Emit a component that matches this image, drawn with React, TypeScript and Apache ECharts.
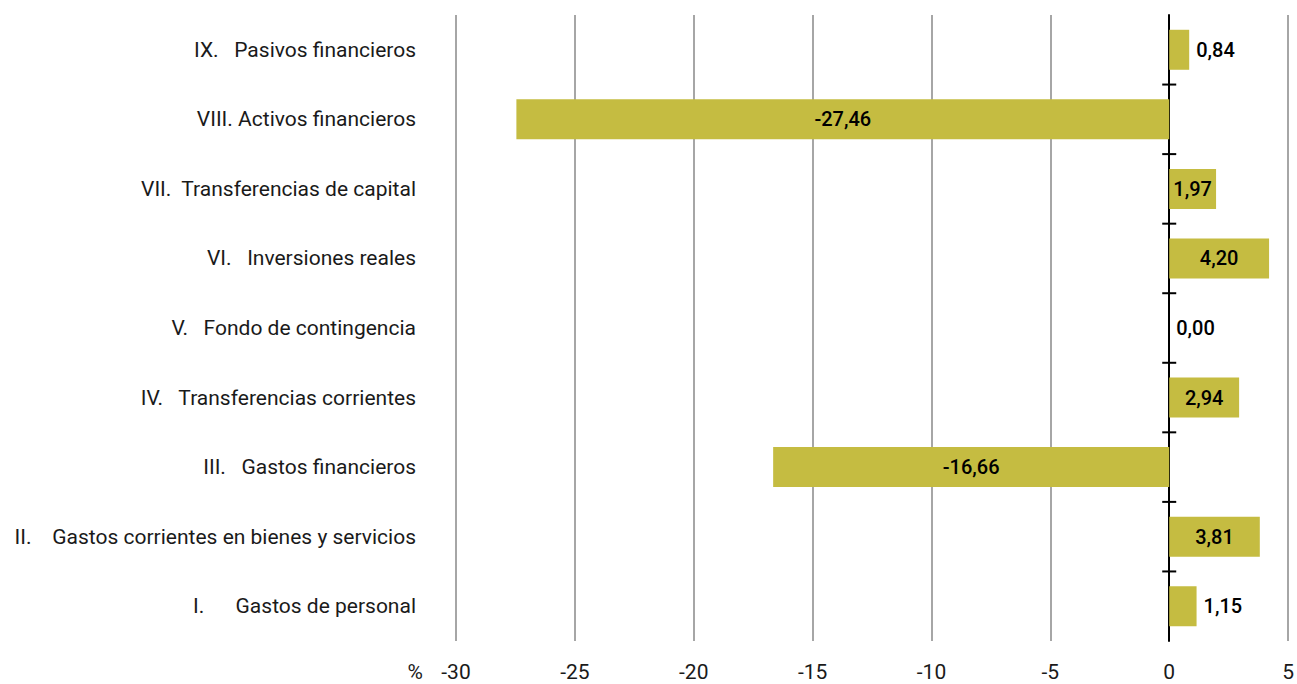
import React, { useEffect, useRef } from "react";
import * as echarts from "echarts";

const categories = [
  "I.      Gastos de personal",
  "II.    Gastos corrientes en bienes y servicios",
  "III.   Gastos financieros",
  "IV.   Transferencias corrientes",
  "V.   Fondo de contingencia",
  "VI.   Inversiones reales",
  "VII.  Transferencias de capital",
  "VIII. Activos financieros",
  "IX.   Pasivos financieros",
];
const values = [1.15, 3.81, -16.66, 2.94, 0.0, 4.2, 1.97, -27.46, 0.84];
const xTicks = [-30, -25, -20, -15, -10, -5, 0, 5];

const FONT = "Roboto";
const BAR = "#C5BC41";

export default function App() {
  const ref = useRef<HTMLDivElement>(null);
  useEffect(() => {
    document.body.style.margin = "0";
    const chart = echarts.init(ref.current!, null, { renderer: "svg" });
    const fmt = (v: number) => v.toFixed(2).replace(".", ",");
    chart.setOption({
      animation: false,
      textStyle: { fontFamily: FONT },
      grid: { left: 456, right: 8, top: 15, bottom: 43, containLabel: false },
      xAxis: {
        type: "value",
        min: xTicks[0],
        max: xTicks[xTicks.length - 1],
        interval: 5,
        axisLine: { show: false },
        axisTick: { show: false },
        splitLine: { show: true, lineStyle: { color: "#A6A6A6", width: 2 } },
        axisLabel: { margin: 20, fontSize: 21, color: "#1a1a1a", fontFamily: FONT },
        name: "%",
        nameLocation: "start",
        nameGap: 33,
        nameTextStyle: { fontSize: 21, color: "#1a1a1a", fontFamily: FONT, verticalAlign: "top", padding: [20, 0, 0, 0] },
      },
      yAxis: [
        {
          type: "category",
          data: categories,
          position: "left",
          axisLine: { show: false, onZero: false },
          axisTick: { show: false },
          axisLabel: { margin: 40, fontSize: 21, color: "#1a1a1a", fontFamily: FONT },
        },
        {
          type: "category",
          data: categories,
          position: "left",
          axisLine: { show: true, onZero: true, lineStyle: { color: "#000", width: 2 } },
          axisTick: { show: false },
          axisLabel: { show: false },
        },
      ],
      series: [
        {
          type: "bar",
          yAxisIndex: 0,
          barWidth: 40,
          itemStyle: { color: BAR },
          data: values.map((v) => ({
            value: v,
            label: {
              show: true,
              position: Math.abs(v) < 1.5 ? "right" : "inside",
              distance: 7,
              formatter: () => fmt(v),
              fontSize: 20,
              fontWeight: 500,
              color: "#000",
              fontFamily: FONT,
            },
          })),
          z: 1,
        },
        {
          type: "custom",
          yAxisIndex: 0,
          silent: true,
          z: 5,
          data: categories.slice(0, -1).map((_, i) => [0, i]),
          renderItem: (params: any, api: any) => {
            const i = api.value(1);
            const a = api.coord([api.value(0), i]);
            const b = api.coord([api.value(0), i + 1]);
            const y = (a[1] + b[1]) / 2;
            return {
              type: "line",
              shape: { x1: a[0] - 7, y1: y, x2: a[0] + 7, y2: y },
              style: { stroke: "#000", lineWidth: 2 },
            };
          },
        },
      ],
    });
    return () => chart.dispose();
  }, []);
  return <div ref={ref} style={{ width: 1297, height: 684 }} />;
}
